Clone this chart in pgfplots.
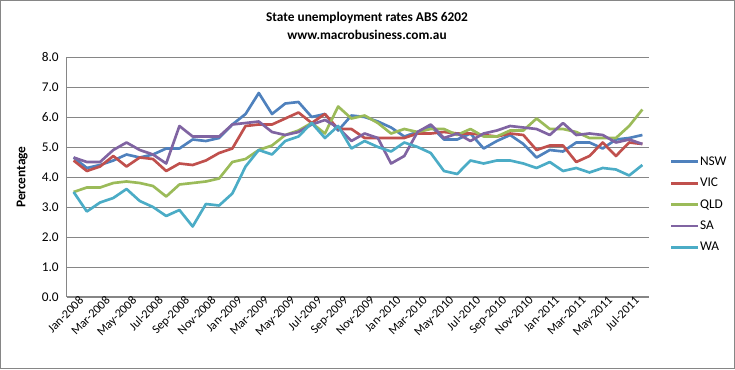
\documentclass[border=0pt]{standalone}
\usepackage{pgfplots}
\usepackage{pgfplotstable}
\pgfplotsset{compat=1.18}
\usepackage{fontspec}
\setmainfont{Carlito}
\definecolor{cNSW}{HTML}{4F81BD}
\definecolor{cVIC}{HTML}{C0504D}
\definecolor{cQLD}{HTML}{9BBB59}
\definecolor{cSA}{HTML}{8064A2}
\definecolor{cWA}{HTML}{4BACC6}
\definecolor{gridgray}{HTML}{868686}
\pgfplotstableread{
idx NSW VIC QLD SA WA
0 4.65 4.55 3.50 4.65 3.50
1 4.30 4.20 3.65 4.50 2.85
2 4.40 4.35 3.65 4.50 3.15
3 4.55 4.70 3.80 4.90 3.30
4 4.75 4.35 3.85 5.15 3.60
5 4.65 4.65 3.80 4.90 3.20
6 4.75 4.60 3.70 4.75 3.00
7 4.95 4.20 3.35 4.45 2.70
8 4.95 4.45 3.75 5.70 2.90
9 5.25 4.40 3.80 5.35 2.35
10 5.20 4.55 3.85 5.35 3.10
11 5.30 4.80 3.95 5.35 3.05
12 5.75 4.95 4.50 5.75 3.45
13 6.10 5.70 4.60 5.80 4.35
14 6.80 5.75 4.90 5.85 4.90
15 6.10 5.75 5.05 5.50 4.75
16 6.45 5.95 5.40 5.40 5.20
17 6.50 6.15 5.55 5.50 5.35
18 6.00 5.80 5.80 5.75 5.80
19 6.10 6.10 5.45 5.90 5.30
20 5.55 5.60 6.35 5.65 5.70
21 6.05 5.60 5.95 5.20 4.95
22 6.00 5.30 6.05 5.45 5.20
23 5.85 5.30 5.80 5.30 5.00
24 5.65 5.30 5.45 4.45 4.85
25 5.35 5.30 5.60 4.70 5.15
26 5.50 5.45 5.50 5.50 5.00
27 5.70 5.45 5.60 5.75 4.80
28 5.25 5.50 5.60 5.30 4.20
29 5.25 5.45 5.40 5.45 4.10
30 5.45 5.45 5.60 5.20 4.55
31 4.95 5.40 5.35 5.45 4.45
32 5.20 5.35 5.35 5.55 4.55
33 5.40 5.45 5.55 5.70 4.55
34 5.10 5.40 5.55 5.65 4.45
35 4.65 4.90 5.95 5.60 4.30
36 4.90 5.05 5.60 5.40 4.50
37 4.85 5.05 5.60 5.80 4.20
38 5.15 4.50 5.50 5.40 4.30
39 5.15 4.70 5.30 5.45 4.15
40 4.95 5.15 5.30 5.40 4.30
41 5.25 4.70 5.30 5.15 4.25
42 5.30 5.15 5.70 5.25 4.05
43 5.40 5.10 6.25 5.10 4.40
}\datatable
\begin{document}
\begin{tikzpicture}
\useasboundingbox (-50.25pt,-54.75pt) rectangle (501pt,222.75pt);
\draw[color=gridgray, line width=0.75pt] (-49.5pt,-54pt) rectangle (500.25pt,222pt);
\node[font=\bfseries\fontsize{10}{12}\selectfont] at (225pt,209.25pt) {State unemployment rates ABS 6202};
\node[font=\bfseries\fontsize{10}{12}\selectfont] at (225pt,196.5pt) {www.macrobusiness.com.au};
\begin{axis}[
  at={(0pt,0pt)}, anchor=south west,
  scale only axis, width=436.5pt, height=180pt,
  xmin=-0.5, xmax=43.5, ymin=0, ymax=8,
  ytick={0,1,...,8},
  /pgf/number format/assume math mode=true,
  y tick label style={/pgf/number format/fixed, /pgf/number format/fixed zerofill, /pgf/number format/precision=1, font=\fontsize{10}{12}\selectfont, inner sep=1pt, xshift=-5pt},
  ymajorgrids,
  grid style={color=gridgray, line width=0.6pt},
  axis x line*=bottom, axis y line*=left,
  axis line style={color=gridgray, line width=0.75pt, -},
  xtick={0,2,...,42},
  xticklabels={Jan-2008,Mar-2008,May-2008,Jul-2008,Sep-2008,Nov-2008,Jan-2009,Mar-2009,May-2009,Jul-2009,Sep-2009,Nov-2009,Jan-2010,Mar-2010,May-2010,Jul-2010,Sep-2010,Nov-2010,Jan-2011,Mar-2011,May-2011,Jul-2011},
  x tick label style={rotate=45, anchor=north east, inner sep=0.5pt, font=\fontsize{9.2}{11}\selectfont, xshift=4pt, yshift=-1pt},
  xtick style={draw=none}, ytick style={draw=none},
  ylabel={Percentage},
  ylabel style={font=\bfseries\fontsize{10}{12}\selectfont, at={(axis description cs:-0.077,0.5)}, anchor=center},
  legend cell align=left,
  legend image code/.code={\draw[#1] (0pt,0pt) -- (20pt,0pt);},
  legend style={at={(1.0355,0.593)}, anchor=north west, draw=none, fill=none,
    font=\fontsize{10}{12}\selectfont, inner sep=0pt, row sep=5.9pt,
    nodes={inner sep=0.6pt, text height=7pt, text depth=2pt}},
  every axis plot/.append style={line width=2pt, line join=round, no marks},
]
\addplot[color=cNSW] table[x=idx,y=NSW] {\datatable};
\addlegendentry{NSW}
\addplot[color=cVIC] table[x=idx,y=VIC] {\datatable};
\addlegendentry{VIC}
\addplot[color=cQLD] table[x=idx,y=QLD] {\datatable};
\addlegendentry{QLD}
\addplot[color=cSA] table[x=idx,y=SA] {\datatable};
\addlegendentry{SA}
\addplot[color=cWA] table[x=idx,y=WA] {\datatable};
\addlegendentry{WA}
\end{axis}
\end{tikzpicture}
\end{document}
